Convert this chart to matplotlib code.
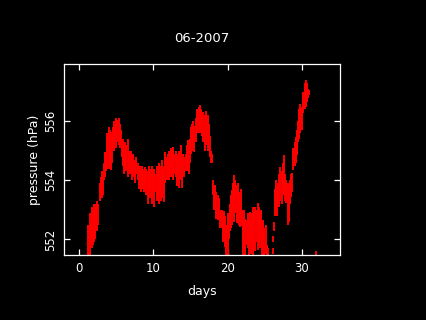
import matplotlib
matplotlib.use("Agg")
import matplotlib.pyplot as plt

# day of month, lowest and highest pressure seen in that slot (hPa)
days = [1.30, 1.45, 1.60, 1.75, 1.90, 2.05, 2.20, 2.35, 2.50, 2.65,
        2.80, 2.95, 3.10, 3.25, 3.40, 3.55, 3.70, 3.85, 4.00, 4.15,
        4.30, 4.45, 4.60, 4.75, 4.90, 5.05, 5.20, 5.35, 5.50, 5.65,
        5.80, 5.95, 6.10, 6.25, 6.40, 6.55, 6.70, 6.85, 7.00, 7.15,
        7.30, 7.45, 7.60, 7.75, 7.90, 8.05, 8.20, 8.35, 8.50, 8.65,
        8.80, 8.95, 9.10, 9.25, 9.40, 9.55, 9.70, 9.85, 10.00, 10.15,
        10.30, 10.45, 10.60, 10.75, 10.90, 11.05, 11.20, 11.35, 11.50, 11.65,
        11.80, 11.95, 12.10, 12.25, 12.40, 12.55, 12.70, 12.85, 13.00, 13.15,
        13.30, 13.45, 13.60, 13.75, 13.90, 14.05, 14.20, 14.35, 14.50, 14.65,
        14.80, 14.95, 15.10, 15.25, 15.40, 15.55, 15.70, 15.85, 16.00, 16.15,
        16.30, 16.45, 16.60, 16.75, 16.90, 17.05, 17.20, 17.35, 17.50, 17.65,
        17.80, 17.95, 18.05, 18.20, 18.35, 18.50, 18.65, 18.80, 18.95, 19.10,
        19.25, 19.40, 19.55, 19.70, 19.85, 20.00, 20.15, 20.30, 20.45, 20.60,
        20.75, 20.90, 21.05, 21.20, 21.35, 21.50, 21.65, 21.80, 21.95, 22.10,
        22.25, 22.40, 22.55, 22.70, 22.85, 23.00, 23.15, 23.30, 23.45, 23.60,
        23.75, 23.90, 24.05, 24.20, 24.35, 24.50, 24.65, 24.80, 24.95, 25.10,
        25.25, 25.40, 26.05, 26.12, 26.19, 26.35, 26.50, 26.65, 26.80, 26.95,
        27.10, 27.25, 27.40, 27.55, 27.70, 27.85, 28.00, 28.10, 28.25, 28.40,
        28.55, 28.70, 28.85, 29.00, 29.15, 29.30, 29.45, 29.60, 29.75, 29.90,
        30.05, 30.20, 30.35, 30.50, 30.65, 30.80, 30.95, 31.90]

p_lo = [551.4, 551.4, 551.8, 551.7, 551.8, 551.9, 552.0, 552.3, 552.3, 552.5,
        553.3, 553.4, 553.4, 553.5, 554.0, 554.1, 554.3, 554.4, 554.4, 554.5,
        554.35, 554.6, 555.1, 555.0, 555.2, 555.1, 555.3, 555.2, 555.1, 555.3,
        554.8, 554.5, 554.2, 554.4, 554.3, 554.1, 554.2, 554.3, 554.2, 554.0,
        554.3, 554.1, 553.9, 554.2, 554.0, 553.7, 554.0, 553.6, 553.8, 553.7,
        553.6, 553.8, 553.5, 553.2, 553.6, 553.4, 553.7, 553.2, 553.5, 553.1,
        553.6, 553.3, 553.4, 553.2, 553.5, 553.3, 553.7, 553.4, 553.25, 553.9,
        554.0, 554.1, 554.0, 554.2, 554.1, 554.3, 554.0, 554.2, 554.1, 553.8,
        554.1, 553.73, 554.2, 554.0, 553.75, 554.3, 554.1, 554.3, 554.3, 554.4,
        554.2, 554.6, 554.9, 555.0, 555.1, 554.95, 555.3, 555.6, 555.7, 555.6,
        555.8, 555.6, 555.5, 555.3, 555.0, 555.2, 555.4, 555.0, 555.1, 554.8,
        554.6, 554.6, 553.5, 553.0, 553.2, 552.7, 552.65, 552.9, 552.4, 552.5,
        552.4, 551.9, 552.3, 551.75, 551.4, 551.4, 552.0, 552.3, 552.4, 552.5,
        552.8, 552.6, 552.9, 552.55, 552.7, 552.5, 552.42, 552.6, 552.45, 551.4,
        551.6, 551.4, 551.8, 551.7, 551.4, 551.9, 551.5, 551.8, 551.4, 551.7,
        551.6, 551.9, 551.64, 551.8, 551.7, 552.0, 551.4, 551.6, 551.4, 551.5,
        551.4, 551.4, 551.5, 551.9, 552.3, 552.8, 553.0, 552.8, 553.2, 553.1,
        553.3, 553.2, 553.5, 553.6, 553.3, 553.22, 553.4, 552.5, 552.6, 553.2,
        553.45, 553.6, 554.35, 554.5, 554.6, 554.86, 555.3, 555.4, 555.6, 555.7,
        555.7, 556.27, 556.4, 556.5, 556.66, 556.8, 556.9, 551.4]

p_hi = [552.5, 552.9, 552.6, 553.1, 553.0, 553.2, 553.1, 553.2, 553.3, 553.2,
        553.9, 554.1, 554.3, 554.1, 554.6, 554.97, 554.9, 555.6, 555.8, 555.7,
        555.5, 555.65, 555.8, 556.0, 555.9, 556.1, 556.05, 556.1, 555.9, 555.7,
        555.3, 555.4, 555.1, 555.3, 555.2, 555.4, 555.0, 554.9, 555.0, 554.8,
        554.9, 554.7, 554.6, 554.8, 554.6, 554.5, 554.5, 554.4, 554.5, 554.3,
        554.4, 554.45, 554.4, 554.3, 554.5, 554.2, 554.4, 554.5, 554.3, 554.4,
        554.2, 554.5, 554.4, 554.6, 554.3, 554.5, 554.7, 554.4, 554.5, 554.97,
        554.8, 554.9, 555.0, 554.9, 555.1, 555.0, 555.14, 554.9, 555.0, 554.8,
        554.9, 555.0, 554.8, 555.2, 554.8, 554.9, 554.8, 554.9, 555.2, 555.37,
        555.3, 555.4, 555.8, 555.9, 556.0, 555.85, 556.1, 556.4, 556.3, 556.5,
        556.55, 556.4, 556.2, 556.3, 556.2, 556.35, 556.1, 556.2, 555.9, 555.5,
        555.0, 554.9, 554.0, 553.8, 553.85, 553.6, 553.5, 553.4, 553.0, 552.9,
        553.0, 552.9, 552.95, 552.8, 552.5, 552.88, 552.7, 553.2, 553.5, 553.67,
        553.9, 554.18, 554.0, 553.85, 553.9, 553.6, 553.4, 553.7, 553.0, 552.9,
        553.0, 552.7, 552.65, 552.9, 552.7, 552.94, 552.6, 552.9, 553.1, 552.9,
        553.11, 553.0, 553.22, 553.1, 552.9, 553.0, 552.6, 552.65, 552.4, 552.5,
        551.8, 551.7, 551.7, 552.1, 552.6, 553.7, 554.0, 553.8, 553.9, 554.2,
        554.46, 554.3, 554.6, 554.86, 554.2, 554.0, 553.9, 553.9, 553.8, 554.0,
        554.2, 554.25, 555.1, 555.3, 555.48, 555.7, 556.0, 556.4, 556.6, 556.4,
        556.5, 557.0, 557.29, 557.4, 557.29, 557.1, 557.06, 551.6]

fig = plt.figure(figsize=(4.26, 3.2), dpi=100, facecolor="black")
ax = fig.add_axes([0.150, 0.202, 0.648, 0.598], facecolor="black")

ax.vlines(days, p_lo, p_hi, colors="red", linewidth=1.4)

ax.set_xlim(-2, 35.1)
ax.set_ylim(551.46, 557.94)
ax.set_xticks([0, 10, 20, 30])
ax.set_yticks([552, 554, 556])

for s in ax.spines.values():
    s.set_color("white")
    s.set_linewidth(0.9)
ax.tick_params(direction="in", length=4.5, width=0.9, colors="white",
               top=True, right=True, labelsize=8.5, pad=5)
for lab in ax.get_yticklabels():
    lab.set_rotation(90)
    lab.set_va("center")

ax.set_title("06-2007", color="white", fontsize=9.5, pad=16)
ax.set_xlabel("days", color="white", fontsize=9, labelpad=7)
ax.set_ylabel("pressure (hPa)", color="white", fontsize=9, labelpad=2)

fig.savefig("out.png", dpi=100, facecolor="black")
